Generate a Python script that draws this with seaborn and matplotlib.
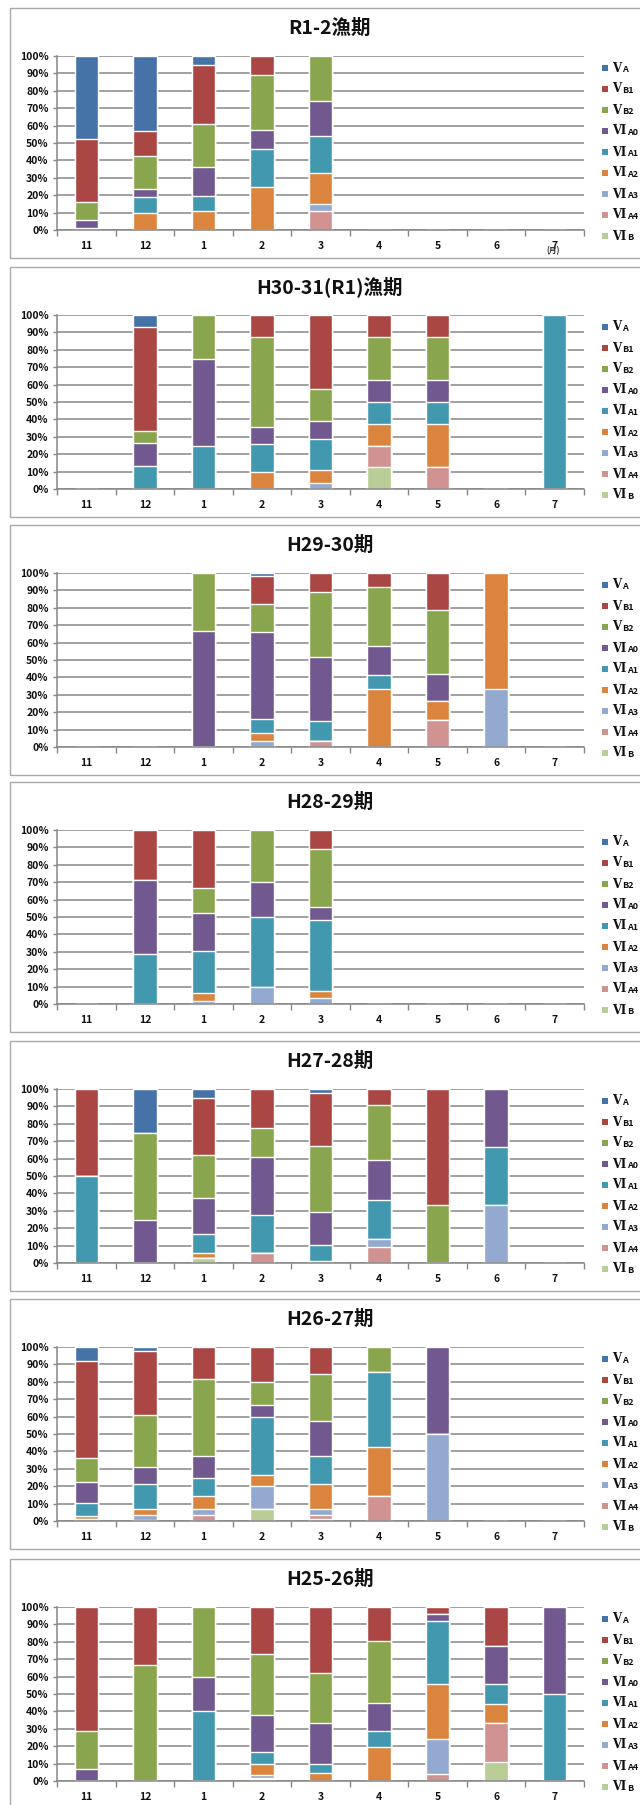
import numpy as np
import pandas as pd
import matplotlib
matplotlib.use("Agg")
import matplotlib.pyplot as plt
from matplotlib.patches import Rectangle
import seaborn as sns

# ---- data -------------------------------------------------------------
months = ["11", "12", "1", "2", "3", "4", "5", "6", "7"]
stages = ["ⅤA", "ⅤB1", "ⅤB2", "ⅥA0", "ⅥA1", "ⅥA2", "ⅥA3", "ⅥA4", "ⅥB"]
stage_colors = ["#4572A7", "#AA4643", "#89A54E", "#71588F", "#4198AF",
                "#DB843D", "#93A9CF", "#D19392", "#B9CD96"]
titles = ["R1-2漁期", "H30-31(R1)漁期", "H29-30期", "H28-29期",
          "H27-28期", "H26-27期", "H25-26期"]

# rows: stages (ⅤA ... ⅥB), columns: months 11 ... 7 (percent)
r1_2 = [
    [47.7, 43.1,  5.4,  0.0,  0.0, 0, 0, 0, 0],
    [36.0, 14.2, 33.5, 10.7,  0.0, 0, 0, 0, 0],
    [10.7, 19.1, 24.9, 32.1, 25.9, 0, 0, 0, 0],
    [ 4.3,  4.6, 16.9, 10.7, 19.9, 0, 0, 0, 0],
    [ 1.3,  9.4,  8.2, 21.5, 21.6, 0, 0, 0, 0],
    [ 0.0,  9.6, 11.1, 25.0, 17.5, 0, 0, 0, 0],
    [ 0.0,  0.0,  0.0,  0.0,  4.2, 0, 0, 0, 0],
    [ 0.0,  0.0,  0.0,  0.0, 10.9, 0, 0, 0, 0],
    [ 0.0,  0.0,  0.0,  0.0,  0.0, 0, 0, 0, 0],
]
h30_31 = [
    [0,  6.7,  0.0,  0.0,  0.0,  0.0,  0.0, 0,   0.0],
    [0, 60.0,  0.0, 12.9, 42.8, 12.5, 12.5, 0,   0.0],
    [0,  6.7, 25.0, 51.6, 17.9, 25.0, 25.0, 0,   0.0],
    [0, 13.3, 50.0,  9.7, 10.7, 12.5, 12.5, 0,   0.0],
    [0, 13.3, 25.0, 16.1, 17.9, 12.5, 12.5, 0, 100.0],
    [0,  0.0,  0.0,  9.7,  7.1, 12.5, 25.0, 0,   0.0],
    [0,  0.0,  0.0,  0.0,  3.6,  0.0,  0.0, 0,   0.0],
    [0,  0.0,  0.0,  0.0,  0.0, 12.5, 12.5, 0,   0.0],
    [0,  0.0,  0.0,  0.0,  0.0, 12.5,  0.0, 0,   0.0],
]
h29_30 = [
    [0, 0,  0.0,  1.9,  0.0,  0.0,  0.0,  0.0, 0],
    [0, 0,  0.0, 16.2, 11.1,  8.3, 21.1,  0.0, 0],
    [0, 0, 33.3, 16.0, 37.0, 33.4, 36.8,  0.0, 0],
    [0, 0, 66.7, 49.8, 37.1, 16.7, 15.8,  0.0, 0],
    [0, 0,  0.0,  8.2, 11.1,  8.3,  0.0,  0.0, 0],
    [0, 0,  0.0,  4.3,  0.0, 33.3, 10.5, 66.7, 0],
    [0, 0,  0.0,  3.6,  0.0,  0.0,  0.0, 33.3, 0],
    [0, 0,  0.0,  0.0,  3.7,  0.0, 15.8,  0.0, 0],
    [0, 0,  0.0,  0.0,  0.0,  0.0,  0.0,  0.0, 0],
]
h28_29 = [
    [0,  0.0,  0.0,  0.0,  0.0, 0, 0, 0, 0],
    [0, 28.6, 33.3,  0.0, 11.1, 0, 0, 0, 0],
    [0,  0.0, 14.3, 30.0, 33.3, 0, 0, 0, 0],
    [0, 42.8, 22.2, 20.0,  7.4, 0, 0, 0, 0],
    [0, 28.6, 23.8, 40.0, 40.8, 0, 0, 0, 0],
    [0,  0.0,  4.8,  0.0,  3.7, 0, 0, 0, 0],
    [0,  0.0,  1.6, 10.0,  3.7, 0, 0, 0, 0],
    [0,  0.0,  0.0,  0.0,  0.0, 0, 0, 0, 0],
    [0,  0.0,  0.0,  0.0,  0.0, 0, 0, 0, 0],
]
h27_28 = [
    [ 0.0, 25.0,  5.2,  0.0,  2.3,  0.0,  0.0,  0.0, 0],
    [50.0,  0.0, 32.8, 22.2, 30.3,  9.1, 66.7,  0.0, 0],
    [ 0.0, 50.0, 24.4, 16.7, 38.2, 31.8, 33.3,  0.0, 0],
    [ 0.0, 25.0, 21.1, 33.3, 19.0, 22.7,  0.0, 33.3, 0],
    [50.0,  0.0, 10.9, 22.2,  9.2, 22.8,  0.0, 33.3, 0],
    [ 0.0,  0.0,  2.9,  0.0,  1.0,  0.0,  0.0,  0.0, 0],
    [ 0.0,  0.0,  0.0,  0.0,  0.0,  4.5,  0.0, 33.4, 0],
    [ 0.0,  0.0,  0.0,  5.6,  0.0,  9.1,  0.0,  0.0, 0],
    [ 0.0,  0.0,  2.7,  0.0,  0.0,  0.0,  0.0,  0.0, 0],
]
h26_27 = [
    [ 7.9,  2.5,  0.0,  0.0,  0.0,  0.0,  0.0, 0, 0],
    [55.9, 36.6, 18.6, 20.0, 15.5,  0.0,  0.0, 0, 0],
    [13.6, 29.9, 44.0, 13.3, 27.0, 14.3,  0.0, 0, 0],
    [12.1,  9.5, 12.5,  6.7, 20.1,  0.0, 50.0, 0, 0],
    [ 7.6, 14.6, 10.5, 33.3, 16.3, 42.9,  0.0, 0, 0],
    [ 1.9,  3.5,  7.3,  6.7, 14.2, 28.6,  0.0, 0, 0],
    [ 0.0,  2.6,  3.8, 13.3,  3.5,  0.0, 50.0, 0, 0],
    [ 1.0,  0.8,  3.3,  0.0,  2.4, 14.2,  0.0, 0, 0],
    [ 0.0,  0.0,  0.0,  6.7,  1.0,  0.0,  0.0, 0, 0],
]
h25_26 = [
    [ 0.0,  0.0,  0.0,  0.0,  0.0,  0.0,  0.0,  0.0,  0.0],
    [71.4, 33.3,  0.0, 26.9, 38.1, 19.4,  4.0, 22.3,  0.0],
    [21.5, 66.7, 40.0, 35.4, 28.6, 35.5,  0.0,  0.0,  0.0],
    [ 7.1,  0.0, 20.0, 21.2, 23.8, 16.1,  4.0, 22.2, 50.0],
    [ 0.0,  0.0, 40.0,  6.5,  4.7,  9.7, 36.0, 11.1, 50.0],
    [ 0.0,  0.0,  0.0,  6.5,  4.8, 19.3, 32.0, 11.1,  0.0],
    [ 0.0,  0.0,  0.0,  1.5,  0.0,  0.0, 20.0,  0.0,  0.0],
    [ 0.0,  0.0,  0.0,  1.0,  0.0,  0.0,  4.0, 22.2,  0.0],
    [ 0.0,  0.0,  0.0,  1.0,  0.0,  0.0,  0.0, 11.1,  0.0],
]
seasons = [r1_2, h30_31, h29_30, h28_29, h27_28, h26_27, h25_26]

# ---- style ------------------------------------------------------------
sns.set_theme(style="white")
plt.rcParams["font.family"] = ["Noto Sans CJK JP", "DejaVu Sans"]
plt.rcParams["font.weight"] = "bold"

W, H = 640, 1805
fig = plt.figure(figsize=(W / 100, H / 100), dpi=100)
fig.patch.set_facecolor("white")

GRID = "#868686"
FRAME = "#a9a9a9"

def fx(px):
    return px / W

def fy(py):
    return 1 - py / H

ax_left, ax_right = 57, 584
top_lines = [56, 315, 573, 830, 1089, 1347, 1607]
plot_h = 174

for k, (title, table) in enumerate(zip(titles, seasons)):
    t = top_lines[k]
    b = t + plot_h

    # outer chart frame (runs off the right edge)
    fig.add_artist(Rectangle((fx(10), fy(b + 28)), fx(W + 20), (b + 28 - (t - 48)) / H,
                             transform=fig.transFigure, fill=False,
                             edgecolor=FRAME, linewidth=1.0))

    ax = fig.add_axes([fx(ax_left), fy(b), fx(ax_right - ax_left), plot_h / H])
    ax.set_facecolor("none")

    df = pd.DataFrame(table, index=stages, columns=months)
    # height of each stage's top edge: the stage plus everything stacked below it
    tops = df.iloc[::-1].cumsum().iloc[::-1]
    for stage, color in zip(stages, stage_colors):
        sns.barplot(x=months, y=tops.loc[stage].values, order=months,
                    color=color, saturation=1, width=0.4, errorbar=None,
                    ax=ax, zorder=3)

    ax.set_xlim(-0.5, len(months) - 0.5)
    ax.set_ylim(0, 100)
    ax.set_yticks(np.arange(0, 101, 10))
    ax.set_yticklabels([f"{v}%" for v in range(0, 101, 10)])
    ax.set_xticks(np.arange(len(months)))
    ax.set_xticklabels(months)
    ax.set_xticks(np.arange(len(months) + 1) - 0.5, minor=True)
    ax.set_xlabel("")
    ax.set_ylabel("")

    ax.grid(False)
    ax.yaxis.grid(True, color=GRID, linewidth=1.1, zorder=0)
    ax.set_axisbelow(True)
    for side in ("top", "right"):
        ax.spines[side].set_visible(False)
    for side in ("left", "bottom"):
        ax.spines[side].set_color(GRID)
        ax.spines[side].set_linewidth(1.1)
        ax.spines[side].set_zorder(4)

    ax.tick_params(axis="x", which="major", length=0, pad=8,
                   labelsize=7.5, labelcolor="#111111")
    ax.tick_params(axis="x", which="minor", length=4, width=1.0,
                   color=GRID, direction="out", bottom=True)
    ax.tick_params(axis="y", which="major", length=3, width=1.0,
                   color=GRID, direction="out", left=True, pad=3,
                   labelsize=7.5, labelcolor="#111111")
    for lab in ax.get_xticklabels() + ax.get_yticklabels():
        lab.set_fontweight("bold")

    fig.text(fx(330), fy(t - 28), title, ha="center", va="center",
             fontsize=14, fontweight="bold", color="#111111")

    # legend column: big Roman numeral followed by a smaller suffix
    for i, (stage, color) in enumerate(zip(stages, stage_colors)):
        yc = t + 12 + 21 * i
        fig.add_artist(Rectangle((fx(602), fy(yc + 3)), fx(6), 6 / H,
                                 transform=fig.transFigure, facecolor=color,
                                 edgecolor="none"))
        numeral = fig.text(fx(612), fy(yc), stage[0], ha="left", va="center",
                           fontsize=8.5, fontweight="bold", color="#111111",
                           family=["DejaVu Serif", "Noto Sans CJK JP"])
        fig.add_artist(matplotlib.text.Annotation(
            stage[1:], xy=(1.0, 0.5), xycoords=numeral,
            xytext=(1.0, -1.0), textcoords="offset points",
            ha="left", va="center", fontsize=6.5, fontweight="bold",
            color="#111111"))

    if k == 0:
        fig.text(fx(553), fy(b + 21), "(月)", ha="center", va="center",
                 fontsize=5.5, color="#222222")

fig.savefig("out.png", dpi=100, facecolor="white")
